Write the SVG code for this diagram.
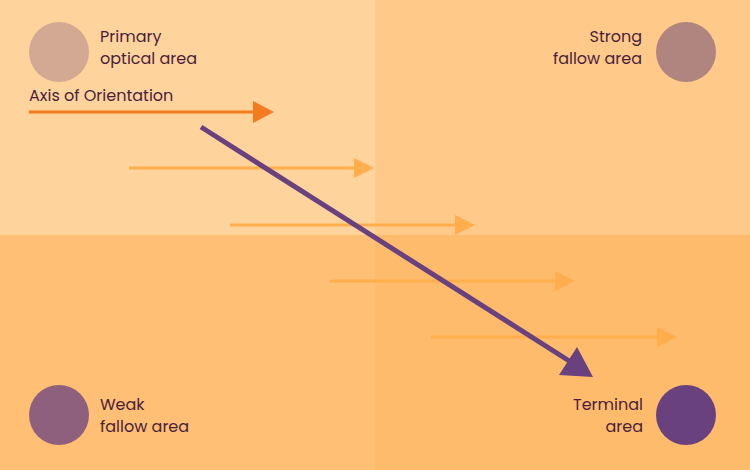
<svg xmlns="http://www.w3.org/2000/svg" width="750" height="470" viewBox="0 0 750 470">
<style>
.lbl{font-family:"Poppins","Noto Sans","Lato",sans-serif;font-size:16px;fill:#4a1e3c}
.end{text-anchor:end}
.faint{stroke:#ffad4d;stroke-width:3;fill:none}
.faintHead{fill:#ffad4d}
</style>
<g id="background">
<rect x="0" y="0" width="375" height="235" fill="#ffd49c"/>
<rect x="375" y="0" width="375" height="235" fill="#ffca89"/>
<rect x="0" y="235" width="375" height="235" fill="#ffbf74"/>
<rect x="375" y="235" width="375" height="235" fill="#ffbb6c"/>
</g>
<g id="node-primary">
<circle cx="59" cy="52" r="30" fill="#d4a994"/>
<text class="lbl"><tspan x="100" y="41.5">Primary</tspan><tspan x="100" y="64.2">optical area</tspan></text>
</g>
<g id="node-strong">
<circle cx="686" cy="52" r="30" fill="#b0857f"/>
<text class="lbl end"><tspan x="642" y="41.5">Strong</tspan><tspan x="642" y="64.2">fallow area</tspan></text>
</g>
<g id="node-weak">
<circle cx="59" cy="415" r="30" fill="#8f5f7e"/>
<text class="lbl"><tspan x="100" y="409.5">Weak</tspan><tspan x="100" y="432.2">fallow area</tspan></text>
</g>
<g id="node-terminal">
<circle cx="686" cy="415" r="30" fill="#6a417f"/>
<text class="lbl end"><tspan x="643" y="409.5">Terminal</tspan><tspan x="643" y="432.2">area</tspan></text>
</g>
<g id="connectors">
<g id="axis">
<text class="lbl" x="29" y="101">Axis of Orientation</text>
<line x1="29" y1="112" x2="256" y2="112" stroke="#f47b20" stroke-width="3"/>
<polygon points="253,101 274,112 253,123" fill="#f47b20"/>
</g>
<line class="faint" x1="129" y1="168" x2="356" y2="168"/>
<polygon class="faintHead" points="354,158 374,168 354,178"/>
<line class="faint" x1="230" y1="225" x2="457" y2="225"/>
<polygon class="faintHead" points="455,215 475,225 455,235"/>
<line class="faint" x1="330" y1="281" x2="557" y2="281"/>
<polygon class="faintHead" points="555,271 575,281 555,291"/>
<line class="faint" x1="431" y1="337" x2="659" y2="337"/>
<polygon class="faintHead" points="657,327 677,337 657,347"/>
<line x1="201" y1="127" x2="574" y2="364" stroke="#6a417f" stroke-width="5"/>
<polygon points="559,375 577,347 593,377" fill="#6a417f"/>
</g>
</svg>
